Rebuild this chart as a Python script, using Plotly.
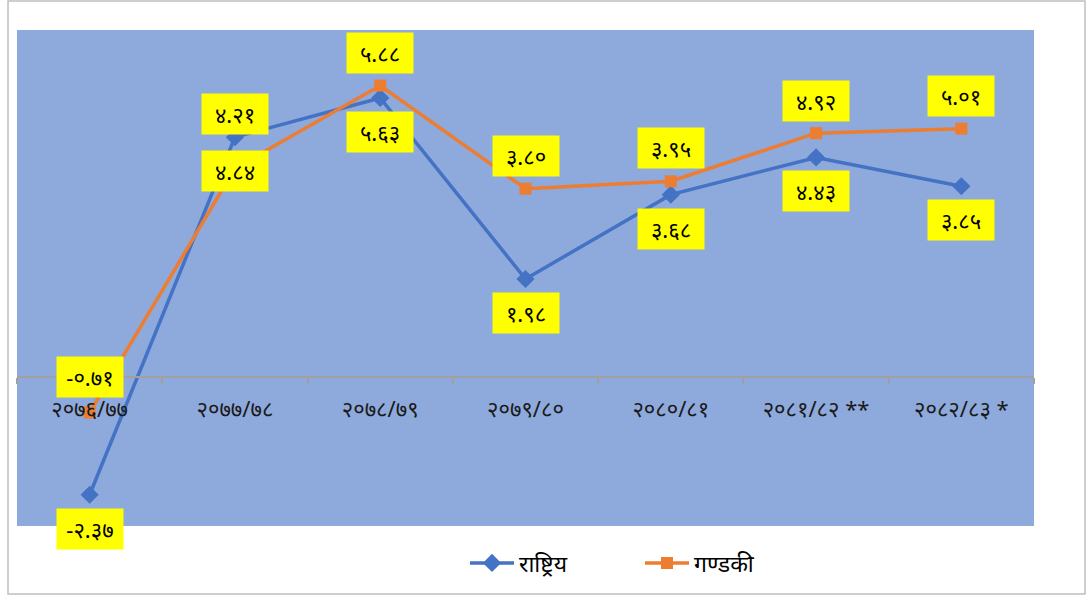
import plotly.graph_objects as go

categories = ["२०७६/७७", "२०७७/७८", "२०७८/७९", "२०७९/८०", "२०८०/८१", "२०८१/८२ **", "२०८२/८३ *"]
national = [-2.37, 4.84, 5.63, 1.98, 3.68, 4.43, 3.85]
gandaki = [-0.71, 4.21, 5.88, 3.80, 3.95, 4.92, 5.01]
national_labels = ["-२.३७", "४.२१", "५.६३", "१.९८", "३.६८", "४.४३", "३.८५"]
gandaki_labels = ["-०.७१", "४.८४", "५.८८", "३.८०", "३.९५", "४.९२", "५.०१"]
# label vertical offsets (pixels)
national_shift = [-34, 23, -34, -34, -34, -34, -34]
gandaki_shift = [35, -3, 33, 33, 33, 32, 33]

BLUE = "#4472C4"
ORANGE = "#ED7D31"
FONT = "Noto Sans, DejaVu Sans, sans-serif"

fig = go.Figure()
fig.add_trace(go.Scatter(x=categories, y=national, name="राष्ट्रिय", mode="lines+markers",
                         line=dict(color=BLUE, width=3.5),
                         marker=dict(symbol="diamond", size=14, color=BLUE)))
fig.add_trace(go.Scatter(x=categories, y=gandaki, name="गण्डकी", mode="lines+markers",
                         line=dict(color=ORANGE, width=3.5),
                         marker=dict(symbol="square", size=12, color=ORANGE)))

for vals, labs, shifts in ((national, national_labels, national_shift),
                           (gandaki, gandaki_labels, gandaki_shift)):
    for c, v, t, s in zip(categories, vals, labs, shifts):
        fig.add_annotation(x=c, y=v, text=t, showarrow=False, yshift=s,
                           bgcolor="#FFFF00", borderpad=2, width=62, height=36,
                           font=dict(family=FONT, size=22, color="black"))

W, H = 1086, 596
L, R, T, B = 17, 52, 30, 70
pw, ph = W - L - R, H - T - B
ymin, ymax = -3, 7

fig.add_shape(type="rect", xref="paper", yref="paper",
              x0=(8 - L) / pw, x1=(1085 - L) / pw,
              y0=(H - B - 594) / ph, y1=(H - B - 1) / ph,
              line=dict(color="#BFBFBF", width=1.5), fillcolor="rgba(0,0,0,0)", layer="below")

fig.update_layout(
    width=W, height=H,
    margin=dict(l=L, r=R, t=T, b=B),
    paper_bgcolor="white",
    plot_bgcolor="#8EA9DB",
    showlegend=True,
    legend=dict(orientation="h", x=(465 - L) / pw, xanchor="left",
                y=-(563 - 526) / ph, yanchor="middle",
                bgcolor="rgba(0,0,0,0)",
                font=dict(family=FONT, size=23, color="black"),
                entrywidthmode="pixels", entrywidth=116, itemwidth=44),
    xaxis=dict(
        type="category",
        range=[-0.5, len(categories) - 0.5],
        anchor="free",
        position=(0 - ymin) / (ymax - ymin),
        showline=True, linecolor="#A0A0A0", linewidth=2,
        ticks="outside", tickson="boundaries", ticklen=6, tickcolor="#A0A0A0", tickwidth=1.5,
        tickfont=dict(family=FONT, size=22, color="#1a1a1a"),
        ticklabelstandoff=12,
        showgrid=False, zeroline=False, fixedrange=True,
    ),
    yaxis=dict(range=[ymin, ymax], showticklabels=False, showgrid=False, zeroline=False,
               ticks="", showline=False, fixedrange=True),
)

fig.write_html("out.html", config={"displayModeBar": False},
               post_script="document.body.style.margin='0px';")
